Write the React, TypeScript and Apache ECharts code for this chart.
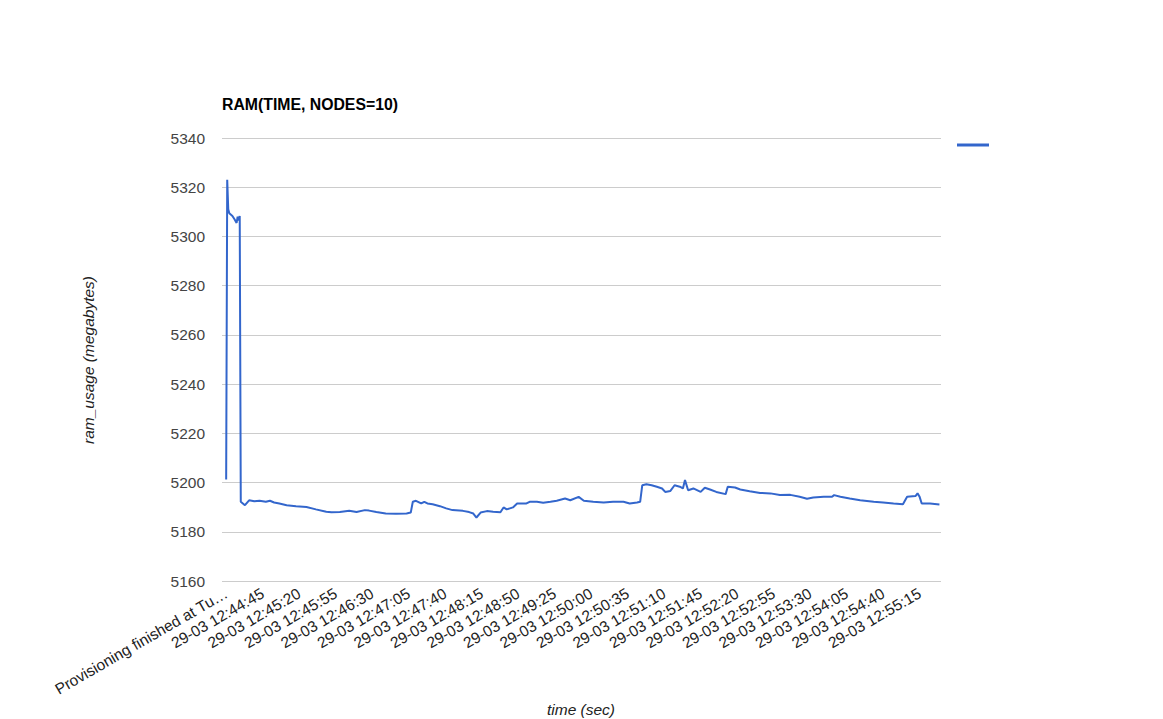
import React, { useEffect, useRef } from "react";
import * as echarts from "echarts";

const FONT = "'Liberation Sans', Arial, sans-serif";

// seconds from first sample
const seconds = [
  0, 1, 2, 3, 6, 8, 10, 11, 12, 13, 14, 18, 22, 27, 32, 38, 42, 46, 51, 58,
  67, 77, 86, 96, 101, 109, 118, 125, 133, 137, 144, 153, 163, 173, 177, 179,
  182, 187, 190, 193, 198, 205, 211, 217, 227, 233, 237, 240, 244, 250, 256,
  263, 266, 269, 275, 279, 288, 291, 298, 304, 311, 317, 325, 330, 338, 343,
  352, 362, 371, 381, 387, 394, 397, 399, 403, 408, 413, 418, 421, 426, 430,
  435, 438, 440, 443, 448, 455, 459, 464, 470, 479, 481, 488, 493, 502, 512,
  522, 531, 541, 550, 557, 563, 573, 581, 583, 589, 598, 608, 621, 630, 640,
  649, 653, 661, 663, 665, 667, 675, 684,
];

// ram usage in megabytes
const ramUsage = [
  5201.2, 5323.0, 5311.0, 5309.4, 5308.3, 5307.0, 5305.5, 5308.0, 5306.5,
  5308.3, 5192.2, 5190.8, 5192.8, 5192.4, 5192.6, 5192.2, 5192.6, 5191.9,
  5191.5, 5190.8, 5190.4, 5190.1, 5189.1, 5188.1, 5187.9, 5188.0, 5188.5,
  5188.0, 5188.8, 5188.6, 5188.0, 5187.4, 5187.3, 5187.4, 5187.8, 5192.2,
  5192.6, 5191.5, 5192.2, 5191.5, 5191.2, 5190.4, 5189.5, 5188.8, 5188.5,
  5188.0, 5187.4, 5185.8, 5187.8, 5188.4, 5188.1, 5187.9, 5189.9, 5189.1,
  5189.9, 5191.5, 5191.5, 5192.2, 5192.2, 5191.8, 5192.2, 5192.6, 5193.5,
  5192.8, 5194.2, 5192.6, 5192.2, 5191.9, 5192.2, 5192.2, 5191.5, 5191.9,
  5192.2, 5198.9, 5199.3, 5198.9, 5198.3, 5197.6, 5196.2, 5196.6, 5198.9,
  5198.3, 5197.6, 5201.0, 5196.9, 5197.6, 5196.2, 5197.9, 5197.2, 5196.2,
  5195.3, 5198.3, 5198.0, 5197.2, 5196.5, 5195.8, 5195.6, 5194.9, 5195.0,
  5194.2, 5193.4, 5193.9, 5194.2, 5194.2, 5194.9, 5194.2, 5193.5, 5192.8,
  5192.2, 5191.9, 5191.5, 5191.2, 5194.2, 5194.5, 5195.6, 5194.2, 5191.5,
  5191.5, 5191.1,
];

const tickSeconds = [
  0, 35, 70, 105, 140, 175, 210, 245, 280, 315, 350, 385, 420, 455, 490, 525,
  560, 595, 630, 665,
];

const tickLabels = [
  "Provisioning finished at Tu…",
  "29-03 12:44:45",
  "29-03 12:45:20",
  "29-03 12:45:55",
  "29-03 12:46:30",
  "29-03 12:47:05",
  "29-03 12:47:40",
  "29-03 12:48:15",
  "29-03 12:48:50",
  "29-03 12:49:25",
  "29-03 12:50:00",
  "29-03 12:50:35",
  "29-03 12:51:10",
  "29-03 12:51:45",
  "29-03 12:52:20",
  "29-03 12:52:55",
  "29-03 12:53:30",
  "29-03 12:54:05",
  "29-03 12:54:40",
  "29-03 12:55:15",
];

const yMin = 5160;
const yMax = 5340;
const yStep = 20;

export default function App() {
  const ref = useRef<HTMLDivElement>(null);

  useEffect(() => {
    document.body.style.margin = "0";
    if (!ref.current) return;
    const chart = echarts.init(ref.current, null, { renderer: "svg" });
    const points = seconds.map((s, i) => [s, ramUsage[i]]);
    chart.setOption({
      animation: false,
      backgroundColor: "#ffffff",
      title: {
        text: "RAM(TIME, NODES=10)",
        left: 222,
        top: 96,
        padding: 0,
        textStyle: {
          fontFamily: FONT,
          fontSize: 15.8,
          fontWeight: "bold",
          color: "#000000",
        },
      },
      legend: {
        show: true,
        left: 957,
        top: 139,
        padding: 0,
        icon: "rect",
        itemWidth: 32,
        itemHeight: 3,
        data: [" "],
        textStyle: { fontSize: 12, color: "#222" },
      },
      grid: {
        left: 222,
        right: 222,
        top: 138,
        bottom: 138,
        containLabel: false,
      },
      xAxis: {
        type: "value",
        min: -4,
        max: 685.5,
        axisLine: { show: false },
        axisTick: { show: false, customValues: tickSeconds },
        splitLine: { show: false },
        axisLabel: {
          customValues: tickSeconds,
          rotate: 30,
          margin: 11,
          fontFamily: FONT,
          fontSize: 15.5,
          color: "#222222",
          formatter: (v: number) => {
            const idx = tickSeconds.indexOf(Math.round(v));
            return idx >= 0 ? tickLabels[idx] : "";
          },
        },
      },
      yAxis: {
        type: "value",
        min: yMin,
        max: yMax,
        interval: yStep,
        axisLine: { show: false },
        axisTick: { show: false },
        splitLine: { lineStyle: { color: "#cccccc", width: 1 } },
        axisLabel: {
          margin: 17,
          fontFamily: FONT,
          fontSize: 15.5,
          color: "#444444",
          formatter: (v: number) => String(v),
        },
      },
      graphic: [
        {
          type: "text",
          x: 88,
          y: 360,
          rotation: Math.PI / 2,
          style: {
            text: "ram_usage (megabytes)",
            fontFamily: FONT,
            fontSize: 15.5,
            fontStyle: "italic",
            fill: "#222222",
            align: "center",
            verticalAlign: "middle",
          },
        },
        {
          type: "text",
          x: 581,
          y: 709,
          style: {
            text: "time (sec)",
            fontFamily: FONT,
            fontSize: 15.5,
            fontStyle: "italic",
            fill: "#222222",
            align: "center",
            verticalAlign: "middle",
          },
        },
      ],
      series: [
        {
          name: " ",
          type: "line",
          data: points,
          showSymbol: false,
          symbol: "none",
          lineStyle: { color: "#3366cc", width: 2 },
          itemStyle: { color: "#3366cc" },
        },
      ],
    });
    return () => chart.dispose();
  }, []);

  return <div ref={ref} style={{ width: 1163, height: 719 }} />;
}
